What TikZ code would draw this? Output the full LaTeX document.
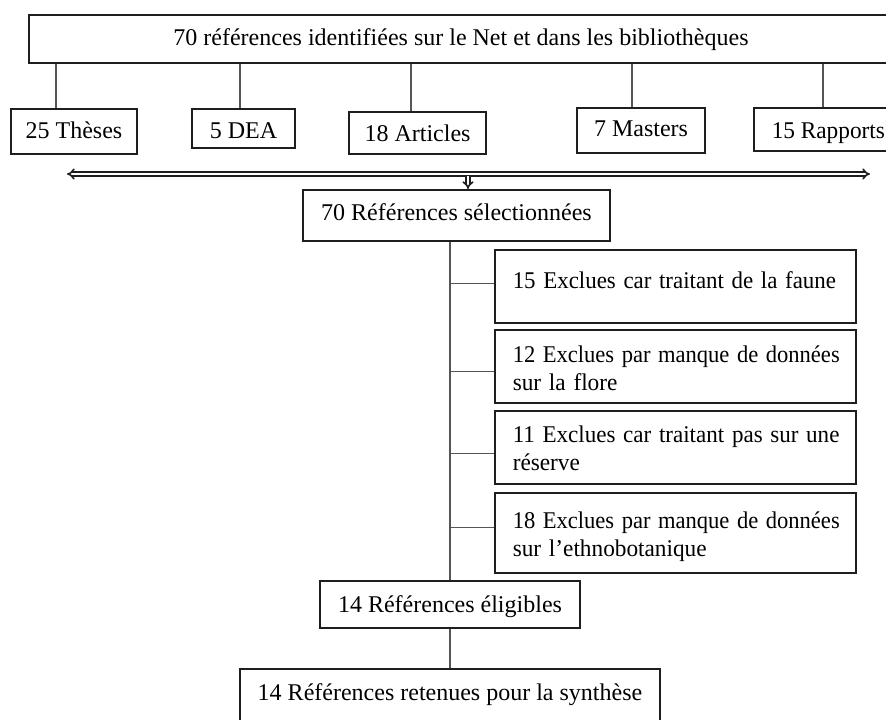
\documentclass[tikz,border=0pt]{standalone}
\usepackage{fontspec}
\usepackage{graphicx}
\setmainfont{Liberation Serif}
\usetikzlibrary{arrows.meta,calc}
\definecolor{boxc}{HTML}{1E1E1E}
\definecolor{linkc}{HTML}{555555}
\newcommand\sqz[2]{\scalebox{#1}[1]{#2}}
\begin{document}
\begin{tikzpicture}[x=1pt,y=-1pt,
  box/.style={draw=boxc, line width=1.5pt, inner sep=0pt, fill=white,
    font=\fontsize{24}{28}\selectfont, align=center, anchor=north},
  exbox/.style={box, align=left, anchor=north west, inner xsep=18pt,
    inner ysep=0pt, text width=325pt},
  link/.style={draw=linkc, line width=1.2pt},
  dbl/.style={draw=boxc, double, double distance=2pt, line width=1.6pt}
]
\clip (0,0) rectangle (886,720);
\fill[white] (0,0) rectangle (886,720);

% top
\node[box, minimum width=864pt, text height=31pt, text depth=17pt] (top) at (461,14)
  {70 références identifiées sur le Net et dans les bibliothèques};

% categories
\node[box, minimum width=126pt, text height=30pt, text depth=15pt] (thes) at (74,108) {25 Thèses};
\node[box, minimum width=103pt, text height=30pt, text depth=9pt] (dea) at (243.5,108) {5 DEA};
\node[box, minimum width=137pt, text height=30pt, text depth=12pt] (art) at (417.5,111) {18 Articles};
\node[box, minimum width=128pt, text height=29pt, text depth=16pt] (mas) at (641,107) {7 Masters};
\node[box, anchor=north west, inner xsep=18pt, text height=31pt, text depth=12pt] (rap) at (753,107) {\sqz{0.97}{15 Rapports}};

\coordinate (l1) at ([xshift=-18pt]thes.north);
\coordinate (l2) at ([xshift=-3.5pt]dea.north);
\coordinate (l3) at ([xshift=-6.5pt]art.north);
\coordinate (l4) at ([xshift=-9pt]mas.north);
\coordinate (l5) at (823,107);
\foreach \c in {l1,l2,l3,l4,l5} \draw[link] (\c) -- (\c |- top.south);

% double arrow
\coordinate (aL) at (67,174);
\coordinate (aR) at (870,174);
\coordinate (aM) at (468,176);
\draw[dbl, {Implies[scale=2.2]}-{Implies[scale=2.2]}] (aL) -- (aR);

% selected
\node[box, minimum width=307pt, text height=31pt, text depth=20pt] (sel) at (456.5,189) {70 Références sélectionnées};
\draw[dbl, -{Implies[scale=1.8]}] (aM) -- (aM |- sel.north);

% eligible and synthesis
\node[box, minimum width=260pt, text height=32pt, text depth=15pt] (elig) at (450,580) {14 Références éligibles};
\node[box, minimum width=420pt, text height=32pt, text depth=24pt] (syn) at (450,668) {14 Références retenues pour la synthèse};

% exclusions
\node[exbox] (ex1) at (494,249)
  {\rule[-34pt]{0pt}{73pt}\sqz{0.955}{15 Exclues car traitant de la faune}};
\node[exbox] (ex2) at (494,329)
  {\rule{0pt}{33pt}\sqz{0.94}{12 Exclues par manque de données}\\\sqz{0.97}{sur la flore}\rule[-12pt]{0pt}{12pt}};
\node[exbox] (ex3) at (494,410)
  {\rule{0pt}{32pt}\sqz{0.96}{11 Exclues car traitant pas sur une}\\\sqz{0.97}{réserve}\rule[-13pt]{0pt}{13pt}};
\node[exbox] (ex4) at (494,492)
  {\rule{0pt}{36pt}\sqz{0.94}{18 Exclues par manque de données}\\\sqz{0.97}{sur l’ethnobotanique}\rule[-16pt]{0pt}{16pt}};

% trunk
\draw[link] (elig.north |- sel.south) -- (elig.north);
\draw[link] (elig.south) -- (syn.north);
\coordinate (x1) at ([yshift=2.5pt]ex1.west);
\coordinate (x2) at ([yshift=-5.5pt]ex2.west);
\coordinate (x3) at ([yshift=-6.5pt]ex3.west);
\coordinate (x4) at ([yshift=5pt]ex4.west);
\foreach \c in {x1,x2,x3,x4} \draw[link] (\c) -- (\c -| elig.north);
\end{tikzpicture}
\end{document}
